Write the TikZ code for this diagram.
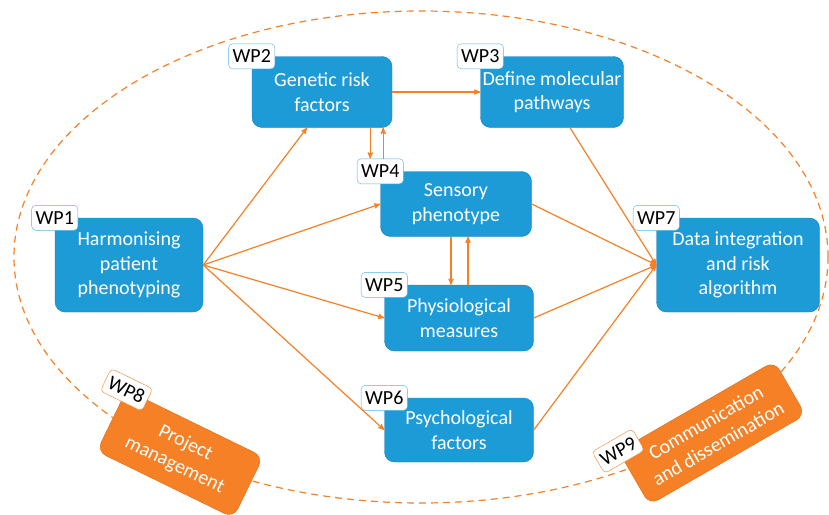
\documentclass[tikz,border=0pt]{standalone}
\usepackage{fontspec}
\setmainfont{Carlito}
\usetikzlibrary{arrows}

\definecolor{wpblue}{RGB}{29,155,215}
\definecolor{wpblueline}{RGB}{22,128,186}
\definecolor{wporange}{RGB}{245,128,37}
\definecolor{wporangeline}{RGB}{222,108,25}

\begin{document}
\begin{tikzpicture}[x=1pt,y=-1pt,->,>=stealth',line width=1.2pt]
    \tikzstyle{wp}=[draw=wpblueline,fill=wpblue,thin,rounded corners=10pt,text=white,align=center,font=\fontsize{20}{24.5}\selectfont,inner sep=2pt]
    \tikzstyle{tag}=[draw=wpblue!75,fill=white,thin,rounded corners=4pt,text=black,font=\fontsize{20}{24}\selectfont,minimum height=25pt,inner xsep=4pt,inner ysep=0pt]
    \tikzstyle{mgmt}=[wp,fill=wporange,draw=wporangeline]
    \tikzstyle{mgmttag}=[tag,draw=wporange]
    \tikzstyle{link}=[color=wporange]

    \useasboundingbox (0,0) rectangle (829,514);
    \draw[-,wporange,dash pattern=on 7pt off 5pt] (421,257) ellipse [x radius=407, y radius=246];

    \node[wp,minimum width=148pt,minimum height=94pt] (wp1) at (129,265) {Harmonising\\patient\\phenotyping};
    \node[wp,minimum width=140pt,minimum height=71pt] (wp2) at (322,92) {Genetic risk\\factors};
    \node[wp,minimum width=143pt,minimum height=71pt] (wp3) at (552,92) {Define molecular\\pathways};
    \node[wp,minimum width=151pt,minimum height=65pt] (wp4) at (456,204) {Sensory\\phenotype};
    \node[wp,minimum width=149pt,minimum height=66pt] (wp5) at (459,318) {Physiological\\measures};
    \node[wp,minimum width=149pt,minimum height=64pt] (wp6) at (459,430) {Psychological\\factors};
    \node[wp,minimum width=163pt,minimum height=94pt] (wp7) at (738,265) {Data integration\\and risk\\algorithm};
    \node[mgmt,rotate=-26,minimum width=152pt,minimum height=68pt] (wp8) at (180,454) {Project\\management};
    \node[mgmt,rotate=30,minimum width=180pt,minimum height=62pt] (wp9) at (712,433) {Communication\\and dissemination};

    \node[tag] (tag1) at (wp1.north west) {WP1};
    \node[tag] (tag2) at (wp2.north west) {WP2};
    \node[tag] (tag3) at (wp3.north west) {WP3};
    \node[tag] (tag4) at (wp4.north west) {WP4};
    \node[tag] (tag5) at (wp5.north west) {WP5};
    \node[tag] (tag6) at (wp6.north west) {WP6};
    \node[tag] (tag7) at (wp7.north west) {WP7};
    \node[mgmttag,rotate=-26] (tag8) at (wp8.north west) {WP8};
    \node[mgmttag,rotate=30] (tag9) at (wp9.north west) {WP9};

    % harmonised phenotypes feed every measurement package
    \path[link] (wp1.east) edge ([xshift=-15pt]wp2.south)
                           edge (wp4.west)
                           edge (wp5.west)
                           edge (wp6.west)
                (wp2.east) edge (wp3.west)
                ([xshift=-22pt]wp2.south east) edge ([xshift=-22pt]wp2.south east |- tag4.north)
                ([xshift=-9pt]wp2.south east |- tag4.north) edge ([xshift=-9pt]wp2.south east)
                ([xshift=-5pt]wp4.south) edge ([xshift=-5pt]wp4.south |- wp5.north)
                ([xshift=12pt]wp4.south |- wp5.north) edge ([xshift=12pt]wp4.south);

    % everything ends in the risk algorithm
    \path[link] ([xshift=18pt]wp3.south) edge (wp7.west)
                (wp4.east) edge (wp7.west)
                (wp5.east) edge (wp7.west)
                (wp6.east) edge (wp7.west);
\end{tikzpicture}
\end{document}
